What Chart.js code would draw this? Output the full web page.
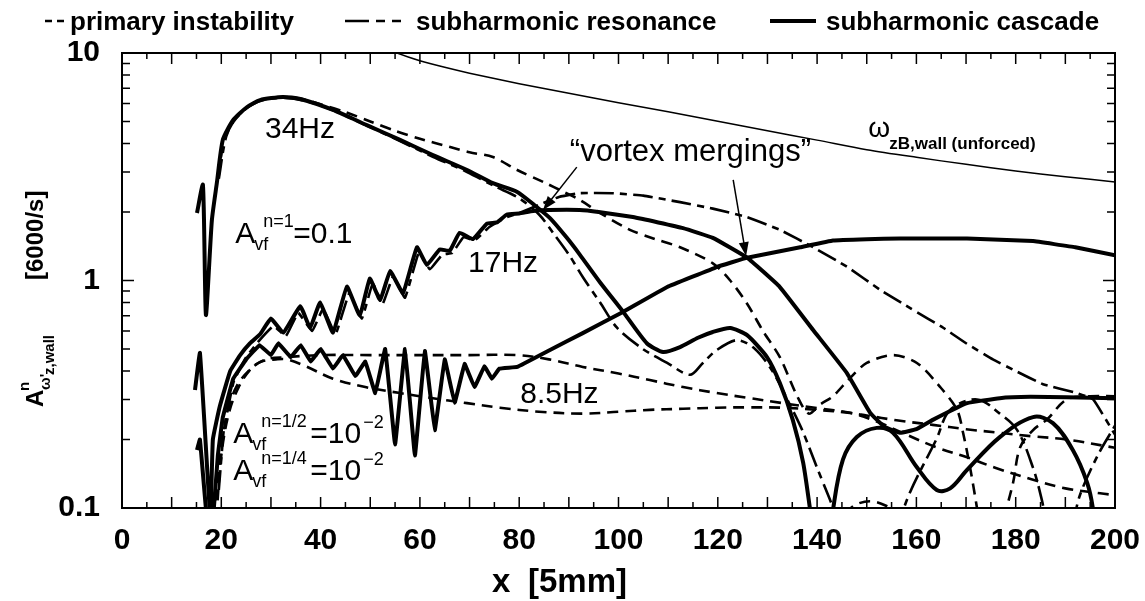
<!DOCTYPE html>
<html>
<head>
<meta charset="utf-8">
<script src="https://cdn.jsdelivr.net/npm/chart.js@4.4.1/dist/chart.umd.min.js"></script>
<style>
  body { margin: 0; background: #fff; }
  canvas { display: block; }
</style>
</head>
<body>
<canvas id="graph" width="1145" height="601"></canvas>
<script>
// ---- data (x in [5mm], amplitude in [6000/s]) ----
const xTickValues = [0, 20, 40, 60, 80, 100, 120, 140, 160, 180, 200];
const yTickValues = [0.1, 1, 10];

// unforced wall vorticity (thin solid)
const omegaX = [54, 55.4, 60, 65, 70, 80, 90, 100, 110, 120, 130, 140, 150, 160, 170, 180, 190, 200];
const omegaY = [10.4, 10, 9.25, 8.65, 8.15, 7.33, 6.65, 6.05, 5.52, 5.01, 4.55, 4.14, 3.76, 3.48, 3.24, 3.03, 2.86, 2.71];

// subharmonic cascade (thick solid)
const cascade34X = [15.1, 16.3, 16.9, 18.1, 19.1, 20.3, 22.4, 25.2, 27.8, 32.4, 35.9, 42.5, 49.3, 56, 62.6, 69.5, 74.7, 79.6, 83, 86.2, 89.6, 92.2, 96.3, 100.9, 105.7, 109, 112.4, 116, 119, 122.5, 125.9, 129.9, 132.5, 135.1, 137.2, 138.6, 139.4];
const cascade34Y = [1.98, 2.63, 0.705, 1.84, 2.68, 4.15, 5.08, 5.79, 6.21, 6.41, 6.28, 5.62, 4.82, 4.15, 3.56, 3.06, 2.68, 2.45, 2.15, 1.88, 1.54, 1.30, 0.98, 0.73, 0.53, 0.485, 0.51, 0.56, 0.594, 0.618, 0.575, 0.461, 0.354, 0.244, 0.158, 0.098, 0.07];
const cascade34bX = [142.6, 143.2, 145.2, 148, 152, 155.3, 160.1, 164.1, 166.8, 170.2, 176.8, 183.5, 187.5, 191.5, 194.4, 195.6, 196.2];
const cascade34bY = [0.07, 0.098, 0.163, 0.205, 0.225, 0.214, 0.151, 0.12, 0.122, 0.147, 0.205, 0.251, 0.236, 0.18, 0.129, 0.098, 0.07];
const cascade17X = [14.7, 15.7, 17.8, 18.3, 19.7, 21.8, 23.8, 25.8, 27.8, 30, 32.5, 35.9, 37.9, 39.9, 42.5, 45.3, 47.9, 49.9, 52, 54, 56.6, 59.4, 61.4, 64, 66, 68, 70.7, 73.5, 75.5, 77.5, 80, 82.8, 86, 92.2, 96, 102.9, 108, 113, 119, 125.9, 132.5, 139.2, 146, 150.7, 153.5, 156.7, 160, 163.3, 170.2, 176.8, 183, 190.3, 200];
const cascade17Y = [0.33, 0.48, 0.09, 0.2, 0.28, 0.40, 0.47, 0.53, 0.58, 0.68, 0.59, 0.77, 0.62, 0.80, 0.59, 0.94, 0.70, 1.02, 0.82, 1.10, 0.88, 1.40, 1.17, 1.37, 1.35, 1.62, 1.52, 1.78, 1.80, 1.95, 1.97, 2.02, 2.04, 2.04, 2.0, 1.90, 1.80, 1.70, 1.54, 1.26, 0.936, 0.606, 0.392, 0.262, 0.228, 0.214, 0.222, 0.244, 0.289, 0.304, 0.308, 0.307, 0.304];
const cascade8X = [15.1, 15.7, 17.3, 18.5, 19.3, 20.3, 22.4, 25, 27.7, 30, 31.5, 34, 36, 38, 40, 42.5, 44.5, 47, 49, 51, 53, 55, 57, 59, 61, 63, 65, 67, 69, 71, 73, 74.5, 76, 79.6, 86.2, 92.8, 100.9, 109.8, 119.8, 125.9, 136.6, 143.2, 150, 156.7, 170.2, 183.5, 192, 200];
const cascade8Y = [0.18, 0.2, 0.08, 0.1, 0.17, 0.25, 0.37, 0.45, 0.52, 0.47, 0.53, 0.46, 0.52, 0.44, 0.50, 0.41, 0.47, 0.38, 0.44, 0.32, 0.5, 0.19, 0.5, 0.17, 0.49, 0.22, 0.45, 0.29, 0.43, 0.34, 0.42, 0.37, 0.41, 0.417, 0.495, 0.587, 0.727, 0.936, 1.146, 1.26, 1.40, 1.5, 1.52, 1.53, 1.53, 1.49, 1.4, 1.29];

// subharmonic resonance (long dash - short dash)
const reson34X = [19.5, 21, 23, 26, 29, 33, 37, 42.5, 49.3, 56, 62.6, 69.5, 75, 80, 84, 87, 90, 93, 96.3, 99.7, 104.9, 109.8, 114.4, 117, 119.8, 123.9, 127.5, 131, 134, 137, 140, 142.5, 144];
const reson34Y = [2.8, 4.3, 5.2, 5.9, 6.25, 6.35, 6.15, 5.6, 4.8, 4.1, 3.5, 3.0, 2.6, 2.3, 1.95, 1.6, 1.3, 1.02, 0.8, 0.62, 0.5, 0.434, 0.385, 0.434, 0.495, 0.547, 0.5, 0.4, 0.3, 0.22, 0.15, 0.11, 0.09];
const reson34bX = [156, 158.7, 164, 166.8, 172.2, 176.8, 180.3, 183.5, 185.2, 186];
const reson34bY = [0.08, 0.117, 0.2, 0.27, 0.3, 0.26, 0.22, 0.15, 0.11, 0.09];
const reson34cX = [191.5, 193, 196.5, 200];
const reson34cY = [0.085, 0.115, 0.17, 0.23];
const reson17X = [19.5, 20.5, 22.5, 25, 27.5, 30.5, 33, 35.5, 38.3, 40.5, 43, 45.8, 48.3, 50.5, 52.5, 54.6, 57, 59.8, 62, 64.5, 66.5, 68.8, 71, 74, 77, 80, 84, 88, 92.2, 98.9, 105, 112.4, 119, 125.9, 132.5, 139.2, 146, 152.7, 159, 165.4, 170, 175.4, 180, 185.5, 192.3, 195.6, 200];
const reson17Y = [0.12, 0.22, 0.36, 0.46, 0.54, 0.63, 0.57, 0.72, 0.6, 0.75, 0.58, 0.88, 0.68, 0.97, 0.79, 1.04, 0.84, 1.33, 1.12, 1.3, 1.32, 1.55, 1.5, 1.72, 1.88, 1.98, 2.15, 2.33, 2.42, 2.42, 2.36, 2.21, 2.07, 1.90, 1.67, 1.40, 1.15, 0.91, 0.75, 0.62, 0.53, 0.45, 0.40, 0.35, 0.32, 0.3, 0.21];

// primary instability (short dash)
const primary34X = [19.5, 20.5, 22.5, 25.2, 27.8, 32.4, 35.9, 40, 45, 50, 55, 60, 66.1, 70, 74.7, 79.6, 85, 89, 92.2, 96.3, 102.3, 107, 112.4, 119, 122.5, 125.9, 129.1, 132.5, 136, 138.3, 140.6, 143.2, 146.5, 150, 155.3, 160.1, 164.8, 168.2, 169.4, 170.8, 172.2, 172.8];
const primary34Y = [2.9, 4.1, 5.0, 5.75, 6.2, 6.4, 6.3, 5.95, 5.5, 5.0, 4.55, 4.2, 3.86, 3.66, 3.49, 3.06, 2.7, 2.45, 2.26, 1.98, 1.67, 1.53, 1.4, 1.19, 1.0, 0.79, 0.6, 0.46, 0.31, 0.26, 0.285, 0.31, 0.37, 0.434, 0.47, 0.434, 0.34, 0.27, 0.214, 0.151, 0.1, 0.08];
const primaryAX = [18.5, 19.5, 21, 23, 26, 29, 33, 40, 50, 60, 70, 79.6, 86, 92.8, 100, 106.3, 113, 119.8, 126, 133.1, 140, 146.6, 152, 158, 164, 170.2, 176, 183.5, 190, 197, 200];
const primaryAY = [0.09, 0.15, 0.25, 0.34, 0.41, 0.45, 0.46, 0.47, 0.47, 0.47, 0.47, 0.47, 0.45, 0.417, 0.39, 0.365, 0.34, 0.32, 0.305, 0.289, 0.275, 0.262, 0.24, 0.21, 0.185, 0.167, 0.15, 0.133, 0.122, 0.116, 0.114];
const primaryBX = [19, 20, 21.5, 23.5, 26, 28, 31, 33.2, 37, 42.5, 49, 56, 62, 69.5, 76.1, 84, 92.8, 100, 106.3, 113, 119.8, 126, 133.1, 140, 146.6, 150, 156, 163.3, 170, 176.8, 183, 190.3, 200];
const primaryBY = [0.09, 0.17, 0.26, 0.34, 0.41, 0.44, 0.45, 0.45, 0.42, 0.37, 0.34, 0.32, 0.305, 0.289, 0.276, 0.265, 0.26, 0.265, 0.27, 0.273, 0.276, 0.277, 0.276, 0.27, 0.262, 0.255, 0.243, 0.232, 0.222, 0.214, 0.207, 0.2, 0.184];
const primaryCX = [177.8, 178.2, 179.5, 180.9, 183.5, 186.3, 190.3, 195, 200];
const primaryCY = [0.09, 0.1, 0.13, 0.185, 0.22, 0.245, 0.3, 0.31, 0.31];
const primaryDX = [145.5, 148, 151, 154, 156];
const primaryDY = [0.095, 0.104, 0.107, 0.102, 0.095];

// ---- styles ----
const FONT = "'Liberation Sans', Arial, Helvetica, sans-serif";
const DASH_PRIMARY = [11, 7];
const DASH_RESON = [20, 6, 7, 6];

function pts(xs, ys) {
    return xs.map((x, i) => ({ x: x, y: ys[i] }));
}

function curve(xs, ys, kind, tension) {
    let ds = {
        data: pts(xs, ys),
        borderColor: "#000",
        pointRadius: 0,
        fill: false,
        tension: tension,
        borderCapStyle: "butt",
        borderJoinStyle: "round"
    };
    if (kind === "cascade") { ds.borderWidth = 4; ds.borderDash = []; }
    else if (kind === "reson") { ds.borderWidth = 2.6; ds.borderDash = DASH_RESON; }
    else if (kind === "primary") { ds.borderWidth = 2.6; ds.borderDash = DASH_PRIMARY; }
    else { ds.borderWidth = 1.5; ds.borderDash = []; }
    return ds;
}

// small helper: draw a run of text pieces (sub/superscripts) from an anchor
function drawParts(ctx, x0, y0, parts) {
    parts.forEach(p => {
        ctx.font = (p[4] || "normal") + " " + p[3] + "px " + FONT;
        ctx.fillText(p[0], x0 + p[1], y0 + p[2]);
    });
}

function arrow(ctx, x1, y1, x2, y2) {
    let a = Math.atan2(y2 - y1, x2 - x1);
    ctx.lineWidth = 1.5;
    ctx.setLineDash([]);
    ctx.beginPath();
    ctx.moveTo(x1, y1);
    ctx.lineTo(x2 - 8 * Math.cos(a), y2 - 8 * Math.sin(a));
    ctx.stroke();
    ctx.beginPath();
    ctx.moveTo(x2, y2);
    ctx.lineTo(x2 - 14 * Math.cos(a) + 5 * Math.sin(a), y2 - 14 * Math.sin(a) - 5 * Math.cos(a));
    ctx.lineTo(x2 - 14 * Math.cos(a) - 5 * Math.sin(a), y2 - 14 * Math.sin(a) + 5 * Math.cos(a));
    ctx.closePath();
    ctx.fill();
}

const decorations = {
    id: "decorations",
    afterDraw(chart) {
        const ctx = chart.ctx;
        const xs = chart.scales.x, ys = chart.scales.y;
        const area = chart.chartArea;
        const px = v => xs.getPixelForValue(v);
        const py = v => ys.getPixelForValue(v);
        ctx.save();
        ctx.fillStyle = "#000";
        ctx.strokeStyle = "#000";
        ctx.textAlign = "left";
        ctx.textBaseline = "alphabetic";

        // frame
        ctx.lineWidth = 2;
        ctx.strokeRect(area.left, area.top, area.right - area.left, area.bottom - area.top);

        // inward ticks, all four sides
        ctx.lineWidth = 1.5;
        ctx.beginPath();
        for (let v = 0; v <= 200; v += 5) {
            let len = v % 10 === 0 ? 11 : 6;
            let x = px(v);
            ctx.moveTo(x, area.bottom); ctx.lineTo(x, area.bottom - len);
            ctx.moveTo(x, area.top); ctx.lineTo(x, area.top + len);
        }
        [0.1, 1].forEach(dec => {
            for (let k = 1; k <= 10; k++) {
                let y = py(dec * k);
                let len = (k === 1 || k === 10) ? 12 : 8;
                ctx.moveTo(area.left, y); ctx.lineTo(area.left + len, y);
                ctx.moveTo(area.right, y); ctx.lineTo(area.right - len, y);
            }
        });
        ctx.stroke();

        // curve labels
        drawParts(ctx, px(28.8), py(4.23), [["34Hz", 0, 0, 30]]);
        drawParts(ctx, px(69.7), py(1.09), [["17Hz", 0, 0, 30]]);
        drawParts(ctx, px(80.2), py(0.289), [["8.5Hz", 0, 0, 30]]);
        drawParts(ctx, px(22.8), py(1.46), [
            ["A", 0, 0, 30], ["vf", 19, 7, 18], ["n=1", 28, -16, 18], ["=0.1", 58, 0, 30]
        ]);
        drawParts(ctx, px(22.4), py(0.193), [
            ["A", 0, 0, 30], ["vf", 19, 7, 18], ["n=1/2", 28, -16, 18], ["=10", 77, 0, 30], ["\u22122", 130, -15, 18]
        ]);
        drawParts(ctx, px(22.4), py(0.133), [
            ["A", 0, 0, 30], ["vf", 19, 7, 18], ["n=1/4", 28, -16, 18], ["=10", 77, 0, 30], ["\u22122", 130, -15, 18]
        ]);
        drawParts(ctx, px(150.3), py(4.27), [
            ["\u03c9", 0, 0, 28], ["zB,wall (unforced)", 21, 12, 17, "bold"]
        ]);
        drawParts(ctx, px(90.2), py(3.35), [["\u201cvortex mergings\u201d", 0, 0, 31]]);
        arrow(ctx, px(91.6), py(3.15), px(84.8), py(2.04));
        arrow(ctx, px(123.1), py(2.77), px(125.7), py(1.28));

        // y axis title (rotated, with sub/superscripts)
        ctx.save();
        ctx.translate(43, 407);
        ctx.rotate(-Math.PI / 2);
        drawParts(ctx, 0, 0, [
            ["A", 0, 0, 24, "bold"], ["n", 16, -14, 15, "bold"], ["\u03c9'", 17, 7, 15, "bold"],
            ["z,wall", 32, 11, 15, "bold"], ["[6000/s]", 127, 0, 24, "bold"]
        ]);
        ctx.restore();

        // x axis title
        drawParts(ctx, 492, 592, [["x", 0, 0, 33, "bold"], ["[5mm]", 36, 0, 33, "bold"]]);

        // legend
        ctx.lineWidth = 2.6;
        ctx.setLineDash([7, 5]);
        ctx.beginPath(); ctx.moveTo(45, 21); ctx.lineTo(64, 21); ctx.stroke();
        ctx.setLineDash([24, 7, 9, 7, 9, 300]);
        ctx.beginPath(); ctx.moveTo(345, 21); ctx.lineTo(405, 21); ctx.stroke();
        ctx.setLineDash([]);
        ctx.lineWidth = 4;
        ctx.beginPath(); ctx.moveTo(770, 21); ctx.lineTo(816, 21); ctx.stroke();
        ctx.font = "bold 26px " + FONT;
        ctx.fillText("primary instability", 70, 30);
        ctx.fillText("subharmonic resonance", 416, 30);
        ctx.fillText("subharmonic cascade", 826, 30);

        ctx.restore();
    }
};

const graph_context = document.getElementById("graph").getContext("2d");

const graph = new Chart(graph_context, {
    type: "line",
    data: {
        datasets: [
            curve(omegaX, omegaY, "thin", 0.3),
            curve(cascade34X, cascade34Y, "cascade", 0.2),
            curve(cascade34bX, cascade34bY, "cascade", 0.35),
            curve(cascade17X, cascade17Y, "cascade", 0.1),
            curve(cascade8X, cascade8Y, "cascade", 0.05),
            curve(reson34X, reson34Y, "reson", 0.3),
            curve(reson34bX, reson34bY, "reson", 0.35),
            curve(reson34cX, reson34cY, "reson", 0.3),
            curve(reson17X, reson17Y, "reson", 0.1),
            curve(primary34X, primary34Y, "primary", 0.3),
            curve(primaryAX, primaryAY, "primary", 0.35),
            curve(primaryBX, primaryBY, "primary", 0.35),
            curve(primaryCX, primaryCY, "primary", 0.35),
            curve(primaryDX, primaryDY, "primary", 0.35)
        ]
    },
    options: {
        responsive: false,
        animation: false,
        events: [],
        layout: { padding: { left: 0, right: 30, top: 53, bottom: 0 } },
        plugins: {
            legend: { display: false },
            tooltip: { enabled: false }
        },
        scales: {
            x: {
                type: "linear",
                min: 0,
                max: 200,
                afterFit: function (scale) {
                    scale.height = 93;
                    scale.paddingLeft = 0;
                    scale.paddingRight = 0;
                },
                afterBuildTicks: function (scale) {
                    scale.ticks = xTickValues.map(v => ({ value: v }));
                },
                grid: { drawOnChartArea: false, drawTicks: false },
                border: { display: true, color: "#000", width: 2 },
                ticks: {
                    padding: 15,
                    color: "#000",
                    maxRotation: 0,
                    font: { family: FONT, size: 30, weight: "bold" }
                }
            },
            y: {
                type: "logarithmic",
                min: 0.1,
                max: 10,
                afterFit: function (scale) {
                    scale.width = 122;
                    scale.paddingTop = 0;
                    scale.paddingBottom = 0;
                },
                afterBuildTicks: function (scale) {
                    scale.ticks = yTickValues.map(v => ({ value: v }));
                },
                grid: { drawOnChartArea: false, drawTicks: false },
                border: { display: true, color: "#000", width: 2 },
                ticks: {
                    padding: 22,
                    color: "#000",
                    font: { family: FONT, size: 30, weight: "bold" },
                    callback: function (value) { return String(value); }
                }
            }
        }
    },
    plugins: [decorations]
});
</script>
</body>
</html>
